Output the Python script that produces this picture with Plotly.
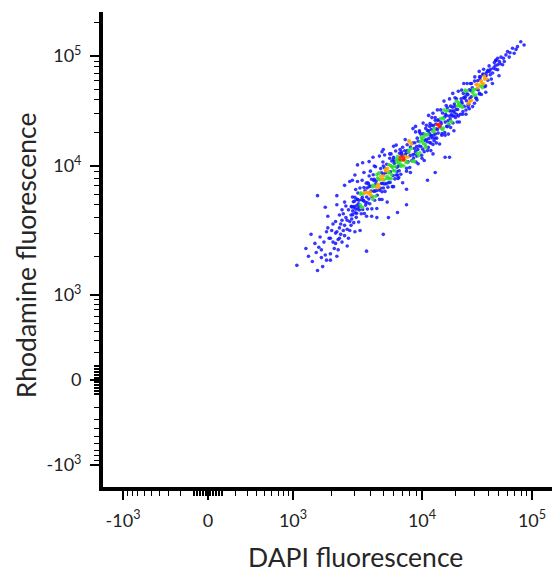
import numpy as np
import plotly.graph_objects as go

# Fluorescence, stored as log10 of the intensity (all events are > 10^3)
dapi_log10 = [
    # low tail
    3.03, 3.19, 3.23, 3.19, 3.20, 3.22, 3.25, 3.27, 3.27, 3.25, 3.12, 3.15, 3.17, 3.21, 3.24, 3.26, 3.10, 3.18, 3.28, 3.14, 3.22, 3.26,
    3.29, 3.29, 3.34, 3.29, 3.33, 3.35, 3.34, 3.42, 3.33, 3.34, 3.34, 3.30, 3.31, 3.32, 3.36, 3.37, 3.38, 3.38, 3.39, 3.40,
    3.40, 3.41, 3.42, 3.43, 3.43, 3.44, 3.44, 3.36, 3.31, 3.35, 3.37, 3.39, 3.41, 3.45, 3.45, 3.33, 3.38, 3.42, 3.36, 3.40,
    # 3.45 - 3.65
    3.452, 3.455, 3.461, 3.463, 3.468, 3.471, 3.474, 3.480, 3.482, 3.486, 3.490, 3.494, 3.497, 3.501, 3.503, 3.509, 3.512, 3.514, 3.519, 3.522,
    3.526, 3.529, 3.533, 3.536, 3.540, 3.542, 3.547, 3.550, 3.553, 3.558, 3.560, 3.563, 3.568, 3.571, 3.574, 3.577, 3.581, 3.585, 3.588, 3.590,
    3.595, 3.598, 3.601, 3.606, 3.609, 3.611, 3.616, 3.619, 3.622, 3.627, 3.630, 3.633, 3.636, 3.640, 3.642, 3.645, 3.648, 3.650,
    # 3.65 - 3.85
    3.653, 3.657, 3.660, 3.664, 3.667, 3.671, 3.673, 3.678, 3.680, 3.684, 3.687, 3.690, 3.694, 3.697, 3.700, 3.703, 3.707, 3.710, 3.713, 3.716,
    3.720, 3.723, 3.726, 3.730, 3.733, 3.736, 3.740, 3.743, 3.746, 3.750, 3.753, 3.756, 3.760, 3.763, 3.766, 3.770, 3.773, 3.776, 3.780, 3.783,
    3.786, 3.790, 3.793, 3.796, 3.800, 3.803, 3.806, 3.810, 3.813, 3.816, 3.820, 3.823, 3.826, 3.830, 3.833, 3.836, 3.840, 3.843, 3.846, 3.850,
    # 3.85 - 4.05
    3.852, 3.857, 3.859, 3.864, 3.866, 3.871, 3.875, 3.877, 3.881, 3.885, 3.887, 3.892, 3.894, 3.898, 3.901, 3.905, 3.908, 3.910, 3.915, 3.918,
    3.921, 3.924, 3.928, 3.930, 3.935, 3.937, 3.941, 3.944, 3.947, 3.951, 3.954, 3.958, 3.961, 3.963, 3.968, 3.971, 3.974, 3.977, 3.981, 3.984,
    3.986, 3.991, 3.994, 3.997, 4.001, 4.004, 4.007, 4.011, 4.013, 4.018, 4.020, 4.024, 4.027, 4.030, 4.034, 4.037, 4.040, 4.043, 4.047, 4.050,
    # 4.05 - 4.25
    4.053, 4.057, 4.060, 4.063, 4.067, 4.070, 4.073, 4.077, 4.080, 4.084, 4.086, 4.090, 4.094, 4.097, 4.100, 4.103, 4.106, 4.110, 4.113, 4.117,
    4.120, 4.123, 4.126, 4.130, 4.133, 4.137, 4.140, 4.143, 4.147, 4.150, 4.154, 4.157, 4.161, 4.164, 4.168, 4.171, 4.175, 4.178, 4.182, 4.186,
    4.189, 4.193, 4.196, 4.200, 4.204, 4.207, 4.211, 4.214, 4.218, 4.222, 4.225, 4.229, 4.232, 4.236, 4.240,
    # 4.25 - 4.45
    4.244, 4.248, 4.252, 4.256, 4.260, 4.263, 4.267, 4.271, 4.275, 4.279, 4.282, 4.286, 4.290, 4.294, 4.298, 4.301, 4.305, 4.309, 4.313, 4.317,
    4.321, 4.324, 4.328, 4.332, 4.336, 4.340, 4.344, 4.348, 4.352, 4.356, 4.360, 4.364, 4.368, 4.372, 4.376, 4.380, 4.384, 4.388, 4.392, 4.396,
    4.400, 4.404, 4.408, 4.412, 4.417, 4.421, 4.425, 4.430, 4.435, 4.440,
    # 4.45 - 4.60
    4.446, 4.451, 4.457, 4.462, 4.467, 4.473, 4.478, 4.483, 4.489, 4.494, 4.500, 4.505, 4.511, 4.516, 4.522, 4.527, 4.533, 4.538, 4.544, 4.549,
    4.555, 4.561, 4.566, 4.572, 4.578, 4.583, 4.589, 4.595,
    # upper tail
    4.898, 4.928, 4.868, 4.823, 4.838, 4.778, 4.763, 4.793, 4.718, 4.688, 4.673, 4.703, 4.748, 4.658, 4.688, 4.733, 4.688, 4.642, 4.613, 4.598,
    4.583, 4.553, 4.523, 4.568, 4.538, 4.493, 4.553, 4.508, 4.463, 4.523, 4.448, 4.493, 4.432, 4.477, 4.418, 4.625, 4.650, 4.665, 4.710, 4.740,
    4.800, 4.855, 4.620, 4.670,
    # band edges
    3.76, 3.78, 3.80, 3.82, 3.83, 3.85, 3.87, 3.88, 3.90, 3.91, 3.93, 3.94, 3.95, 3.97, 3.98, 4.00, 4.01, 4.02, 4.04, 4.05,
    4.06, 4.08, 4.09, 4.10, 4.12, 4.13, 4.14, 4.16, 4.17, 4.18, 4.20, 4.21, 4.22, 4.24, 4.25, 4.26, 4.28, 4.29, 4.30, 4.32,
    4.33, 4.34, 4.36, 4.37, 4.38, 4.40, 4.41, 4.43, 4.44, 4.46, 4.48, 4.50, 4.52, 4.54, 4.56, 4.58, 4.61, 4.64, 4.67, 4.70,
    3.46, 3.48, 3.50, 3.52, 3.55, 3.57, 3.59, 3.61, 3.63, 3.65, 3.67, 3.69, 3.71, 3.73, 3.75,
    # band core, extra
    3.92, 3.96, 3.99, 4.03, 4.07, 4.11, 4.15, 4.19, 4.23, 4.27, 4.31, 4.35, 4.39, 4.42, 4.45, 4.49, 4.53, 4.57, 4.60, 4.63,
    3.70, 3.74, 3.78, 3.81, 3.84, 3.89, 3.58, 3.62, 3.66, 3.54,
    3.455, 3.463, 3.470, 3.478, 3.486, 3.493, 3.500, 3.507, 3.515, 3.522, 3.530, 3.537, 3.545, 3.552, 3.560, 3.567, 3.575, 3.582, 3.590, 3.597,
    3.605, 3.612, 3.620, 3.627, 3.635, 3.642, 3.650, 3.657, 3.665, 3.672, 3.680, 3.687, 3.695, 3.702, 3.710, 3.717, 3.725, 3.732, 3.740, 3.747,
    3.755, 3.762, 3.770, 3.777, 3.785, 3.792, 3.800, 3.807, 3.815, 3.822, 3.830, 3.837, 3.845, 3.852, 3.860, 3.867, 3.875, 3.882, 3.890, 3.897,
    # stray events
    3.57, 3.48, 3.54, 3.44, 3.50, 3.62, 3.70, 3.69, 3.65, 3.74, 3.70, 3.81, 3.88, 3.88, 4.05, 4.12, 4.21, 4.25, 3.60, 3.78, 3.95, 4.10, 3.40,
]

rhod_log10 = [
    # low tail
    3.23, 3.19, 3.22, 3.77, 3.37, 3.35, 3.31, 3.52, 3.61, 3.68, 3.30, 3.26, 3.40, 3.45, 3.41, 3.27, 3.36, 3.33, 3.44, 3.47, 3.29, 3.49,
    3.32, 3.27, 3.30, 3.44, 3.40, 3.43, 3.49, 3.38, 3.57, 3.70, 3.77, 3.50, 3.55, 3.36, 3.52, 3.47, 3.58, 3.41, 3.63, 3.54,
    3.46, 3.60, 3.51, 3.66, 3.44, 3.57, 3.50, 3.62, 3.41, 3.35, 3.55, 3.50, 3.69, 3.62, 3.54, 3.48, 3.66, 3.58, 3.44, 3.72,
    # 3.45 - 3.65
    3.685, 3.589, 3.760, 3.652, 3.723, 3.561, 3.685, 3.757, 3.638, 3.818, 3.602, 3.694, 3.741, 3.668, 3.791, 3.566, 3.734, 3.659, 3.829, 3.700,
    3.792, 3.630, 3.739, 3.890, 3.663, 3.781, 3.730, 3.833, 3.632, 3.808, 3.793, 3.697, 3.867, 3.760, 3.829, 3.667, 3.792, 3.862, 3.744, 3.922,
    3.707, 3.798, 3.845, 3.773, 3.897, 3.668, 3.838, 3.764, 3.932, 3.805, 3.896, 3.734, 3.842, 3.994, 3.765, 3.884, 3.831, 3.933,
    # 3.65 - 3.85
    3.773, 3.857, 3.900, 3.834, 3.947, 3.741, 3.893, 3.828, 3.980, 3.864, 3.947, 3.800, 3.899, 4.037, 3.830, 3.938, 3.892, 3.985, 3.803, 3.961,
    3.950, 3.863, 4.016, 3.920, 3.983, 3.836, 3.950, 4.013, 3.906, 4.070, 3.873, 3.956, 4.000, 3.933, 4.046, 3.840, 3.993, 3.926, 4.080, 3.963,
    4.046, 3.900, 3.998, 4.136, 3.930, 4.038, 3.991, 4.085, 3.903, 4.061, 4.050, 3.963, 4.116, 4.020, 4.083, 3.936, 4.050, 4.113, 4.006, 4.170,
    # 3.85 - 4.05
    4.079, 4.057, 4.064, 4.055, 4.138, 4.103, 4.084, 4.032, 3.982, 4.193, 4.141, 4.038, 4.130, 4.224, 4.146, 3.988, 4.094, 4.173, 4.205, 4.159,
    4.049, 4.043, 4.209, 4.103, 4.072, 4.047, 4.159, 4.212, 4.111, 4.133, 4.037, 4.176, 4.116, 4.253, 4.150, 4.225, 4.093, 4.182, 4.307, 4.121,
    4.218, 4.177, 4.262, 4.098, 4.242, 4.231, 4.153, 4.292, 4.204, 4.263, 4.130, 4.233, 4.290, 4.194, 4.342, 4.165, 4.240, 4.279, 4.220, 4.322,
    # 4.05 - 4.25
    4.289, 4.169, 4.320, 4.251, 4.295, 4.214, 4.385, 4.281, 4.208, 4.332, 4.270, 4.370, 4.254, 4.313, 4.196, 4.367, 4.282, 4.342, 4.313, 4.253,
    4.416, 4.291, 4.382, 4.338, 4.253, 4.377, 4.332, 4.415, 4.299, 4.374, 4.378, 4.357, 4.365, 4.356, 4.432, 4.399, 4.383, 4.338, 4.294, 4.482,
    4.437, 4.345, 4.428, 4.512, 4.444, 4.303, 4.399, 4.470, 4.498, 4.458, 4.361, 4.357, 4.504, 4.412, 4.384,
    # 4.25 - 4.45
    4.374, 4.455, 4.501, 4.428, 4.544, 4.407, 4.467, 4.499, 4.454, 4.535, 4.391, 4.500, 4.455, 4.564, 4.484, 4.543, 4.442, 4.513, 4.611, 4.468,
    4.546, 4.513, 4.581, 4.455, 4.568, 4.561, 4.544, 4.552, 4.545, 4.612, 4.585, 4.571, 4.533, 4.495, 4.660, 4.622, 4.542, 4.616, 4.690, 4.631,
    4.509, 4.593, 4.657, 4.682, 4.649, 4.565, 4.562, 4.693, 4.614, 4.591,
    # 4.45 - 4.60
    4.683, 4.595, 4.712, 4.663, 4.698, 4.641, 4.772, 4.696, 4.645, 4.740, 4.698, 4.775, 4.691, 4.738, 4.654, 4.785, 4.725, 4.772, 4.754, 4.711,
    4.837, 4.747, 4.818, 4.788, 4.728, 4.823, 4.793, 4.859,
    # upper tail
    5.130, 5.100, 5.085, 5.070, 5.025, 5.040, 5.010, 4.990, 4.990, 4.980, 4.960, 4.950, 4.950, 4.940, 4.920, 4.920, 4.875, 4.845, 4.860, 4.780,
    4.845, 4.830, 4.810, 4.800, 4.770, 4.740, 4.740, 4.710, 4.675, 4.660, 4.630, 4.615, 4.585, 4.570, 4.540, 4.880, 4.890, 4.910, 4.930, 4.980,
    5.030, 5.060, 4.830, 4.880,
    # band edges
    4.11, 3.84, 4.19, 3.91, 4.15, 3.87, 4.24, 3.96, 4.23, 3.95, 4.34, 4.04, 4.31, 4.02, 4.32, 4.07, 4.39, 4.05, 4.37, 4.14,
    4.46, 4.14, 4.44, 4.11, 4.44, 4.21, 4.51, 4.20, 4.51, 4.28, 4.59, 4.28, 4.55, 4.29, 4.61, 4.35, 4.66, 4.32, 4.62, 4.40,
    4.68, 4.40, 4.69, 4.47, 4.75, 4.47, 4.75, 4.52, 4.75, 4.54, 4.81, 4.60, 4.86, 4.65, 4.88, 4.67, 4.91, 4.75, 4.96, 4.82,
    3.89, 3.49, 3.88, 3.50, 3.95, 3.61, 4.04, 3.61, 4.00, 3.67, 4.09, 3.74, 4.10, 3.72, 4.11,
    # band core, extra
    4.20, 4.09, 4.29, 4.18, 4.36, 4.23, 4.42, 4.33, 4.53, 4.40, 4.59, 4.47, 4.68, 4.56, 4.75, 4.62, 4.81, 4.72, 4.87, 4.79,
    4.00, 3.87, 4.06, 3.93, 4.13, 4.03, 3.87, 3.74, 3.94, 3.68,
    3.685, 3.623, 3.680, 3.728, 3.666, 3.633, 3.740, 3.707, 3.685, 3.782, 3.680, 3.757, 3.735, 3.792, 3.720, 3.797, 3.715, 3.792, 3.840, 3.777,
    3.805, 3.762, 3.850, 3.887, 3.805, 3.862, 3.810, 3.907, 3.855, 3.812, 3.920, 3.897, 3.865, 3.922, 3.860, 3.977, 3.905, 3.962, 3.900, 3.947,
    4.005, 3.902, 3.990, 3.967, 4.025, 3.962, 4.060, 3.957, 4.025, 4.002, 4.060, 3.997, 4.095, 4.052, 4.000, 4.087, 4.045, 4.122, 4.080, 4.127,
    # stray events
    3.34, 3.93, 4.03, 3.88, 4.01, 4.08, 4.15, 4.13, 3.60, 3.60, 3.47, 3.64, 3.70, 3.82, 3.89, 3.95, 4.08, 4.08, 3.96, 4.18, 4.36, 4.48, 3.85,
]

# Axis ticks
major_vals = [-1e3, 0, 1e3, 1e4, 1e5]
major_text = ["-10<sup>3</sup>", "0", "10<sup>3</sup>", "10<sup>4</sup>", "10<sup>5</sup>"]
minor_vals = ([-m * 100 for m in range(1, 10)] + [-m * 10 for m in range(1, 10)]
              + [m * 10 for m in range(1, 10)] + [m * 100 for m in range(1, 10)]
              + [m * 1e3 for m in range(2, 10)] + [m * 1e4 for m in range(2, 10)] + [2e5])


# biexponential-like display scale: asinh around zero, log above 10^3
def biex(v):
    v = np.atleast_1d(np.asarray(v, dtype=float))
    out = np.empty_like(v)
    a = np.abs(v)
    small = a <= 1000
    out[small] = 85 * np.arcsinh(v[small] / 300) / np.arcsinh(1000 / 300)
    big = ~small
    out[big] = np.sign(v[big]) * np.interp(np.log10(a[big]), [3, 4, 5, 6], [85, 214, 324, 434])
    return out


assert len(dapi_log10) == len(rhod_log10)
x = biex(10 ** np.array(dapi_log10))
y = biex(10 ** np.array(rhod_log10))

# pseudocolour: events per 4x4 display-pixel bin, like a flow cytometry dot plot
bins = np.stack([np.floor(x / 4), np.floor(y / 4)], axis=1)
_, inv, counts = np.unique(bins, axis=0, return_inverse=True, return_counts=True)
dens = counts[inv.ravel()]
order = np.argsort(dens, kind="stable")

blue, green, orange, red = "#1414ff", "#2ee02e", "#ffa500", "#ff2200"
fig = go.Figure()
fig.add_trace(go.Scatter(
    x=x[order], y=y[order], mode="markers",
    marker=dict(size=3.6, color=dens[order], cmin=0, cmax=6,
                colorscale=[[0, blue], [0.417, blue], [0.417, green], [0.583, green],
                            [0.583, orange], [0.75, orange], [0.75, red], [1, red]],
                opacity=0.85, line=dict(width=0)),
    hoverinfo="skip", showlegend=False))

axis_common = dict(showgrid=False, zeroline=False, showline=True, linecolor="black", linewidth=4,
                   ticks="outside", ticklen=9, tickwidth=2, tickcolor="black", ticklabelstandoff=5,
                   tickfont=dict(family="Lato", size=18, color="#222222"),
                   minor=dict(tickvals=list(biex(minor_vals)), ticklen=5, tickwidth=1.2,
                              tickcolor="black", ticks="outside"))

fig.update_xaxes(range=[-105, 352], tickvals=list(biex(major_vals)), ticktext=major_text, **axis_common)
fig.update_yaxes(range=[-107, 368], tickvals=list(biex(major_vals)), ticktext=major_text, **axis_common)

fig.add_annotation(text="DAPI fluorescence", xref="paper", yref="paper", x=0.5536, y=-0.1474,
                   xanchor="center", yanchor="middle", showarrow=False,
                   font=dict(family="Lato", size=26.5, color="#262626"))
fig.add_annotation(text="Rhodamine fluorescence", xref="paper", yref="paper", x=-0.1685, y=0.488,
                   xanchor="center", yanchor="middle", textangle=-90, showarrow=False,
                   font=dict(family="Lato", size=26.5, color="#262626"))

# the page puts the figure 8px in from the top-left corner, so the margins absorb that offset
fig.update_layout(width=560, height=573, margin=dict(l=95, r=8, t=4, b=94),
                  plot_bgcolor="white", paper_bgcolor="white")

fig.write_html("out.html")
